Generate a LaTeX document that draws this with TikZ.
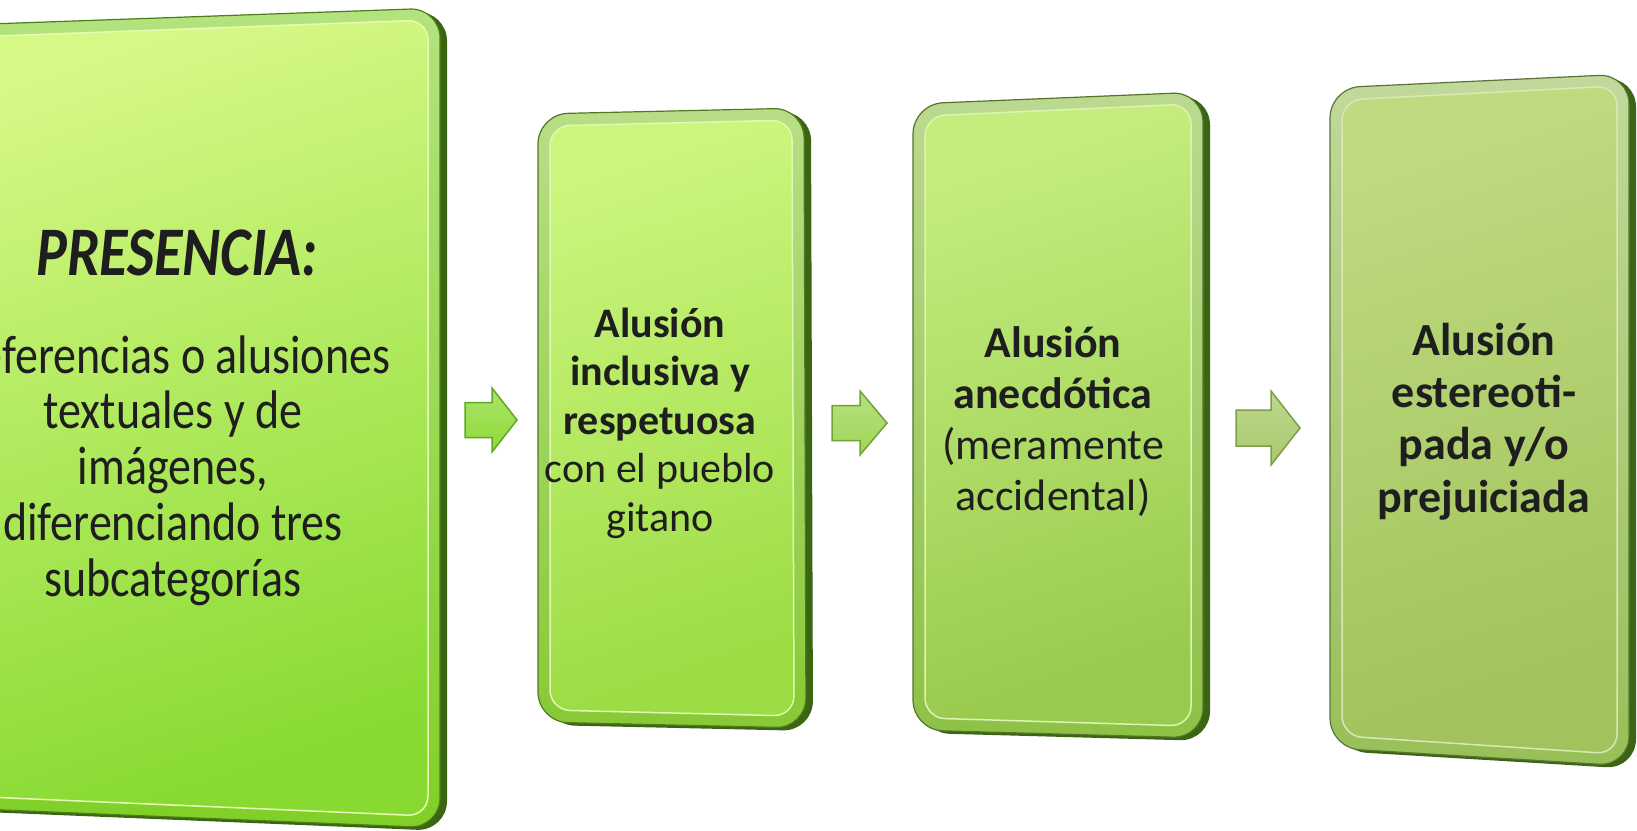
\documentclass[tikz,border=0pt]{standalone}
\usepackage{fontspec}
\setmainfont{Carlito}
\usetikzlibrary{calc}
\definecolor{txtc}{HTML}{1E1E1E}
\definecolor{shadowc}{HTML}{3A6614}
\definecolor{frA}{HTML}{80D028}\definecolor{inAt}{HTML}{D6F886}\definecolor{inAb}{HTML}{88DA32}
\definecolor{frB}{HTML}{88C936}\definecolor{inBt}{HTML}{CCF57E}\definecolor{inBb}{HTML}{9CDC44}
\definecolor{frC}{HTML}{8EC146}\definecolor{inCt}{HTML}{C4ED7E}\definecolor{inCb}{HTML}{99CA4E}
\definecolor{frD}{HTML}{98BF58}\definecolor{inDt}{HTML}{BEDB80}\definecolor{inDb}{HTML}{A1C25C}
\definecolor{arA}{HTML}{8EDB38}\definecolor{arAe}{HTML}{5FA822}
\definecolor{arB}{HTML}{9FD656}\definecolor{arBe}{HTML}{6FA335}
\definecolor{arC}{HTML}{A8C96C}\definecolor{arCe}{HTML}{7E9F48}
% #1 name, #2 TL, #3 TR, #4 BR, #5 BL, #6 frame, #7 inner top, #8 inner bottom
\newcommand\bevbox[8]{%
  \coordinate (#1tl) at (#2);\coordinate (#1tr) at (#3);
  \coordinate (#1br) at (#4);\coordinate (#1bl) at (#5);
  \fill[shadowc, rounded corners=30]
    ($(#1tl)+(7,3)$) -- ($(#1tr)+(7,3)$) -- ($(#1br)+(7,3)$) -- ($(#1bl)+(7,3)$) -- cycle;
  \path[rounded corners=30, top color=#6!60!white, bottom color=#6,
        draw=#6!60!black, line width=1.2]
    (#1tl) -- (#1tr) -- (#1br) -- (#1bl) -- cycle;
  \path[rounded corners=20, top color=#7, bottom color=#8, shading angle=18,
        draw=#7!60!white, line width=1.5]
    ($(#1tl)+(12,12)$) -- ($(#1tr)+(-12,12)$) -- ($(#1br)+(-12,-12)$) -- ($(#1bl)+(12,-12)$) -- cycle;
}
% #1 name, #2 left x, #3 head base x, #4 tip x, #5 centre y, #6 shaft half, #7 head half, #8 fill, #9 edge
\newcommand\blockarrow[9]{%
  \coordinate (#1) at (#2,#5);
  \path[top color=#8!75!white, bottom color=#8, draw=#9, line width=1.5, line join=miter]
    (#2,#5-#6) -- (#3,#5-#6) -- (#3,#5-#7) -- (#4,#5) -- (#3,#5+#7)
    -- (#3,#5+#6) -- (#2,#5+#6) -- cycle;
}
\tikzset{txt/.style={text=txtc, inner sep=0pt, align=center}}
\begin{document}
\begin{tikzpicture}[x=1pt,y=-1pt]
\useasboundingbox (0,0) rectangle (1637,830);
\clip (0,0) rectangle (1637,830);
\fill[white] (0,0) rectangle (1637,830);

\bevbox{A}{-95,27}{440,8}{440,828}{-95,806}{frA}{inAt}{inAb}
\bevbox{B}{538,114}{804,108}{806,728}{538,722}{frB}{inBt}{inBb}
\bevbox{C}{913,104}{1203,92}{1203,738}{913,730}{frC}{inCt}{inCb}
\bevbox{D}{1330,88}{1629,74}{1629,766}{1330,748}{frD}{inDt}{inDb}

\blockarrow{a1}{465}{492}{517}{420}{17.5}{32}{arA}{arAe}
\blockarrow{a2}{832}{860}{887}{423}{17.5}{32}{arB}{arBe}
\blockarrow{a3}{1236}{1271}{1300}{428}{18}{37}{arC}{arCe}

% last-line baselines used as anchors
\begin{scope}[shift={(177,275)}]
\node[txt, anchor=base, transform shape, yscale=1.2,
      font=\bfseries\itshape\fontsize{58}{60}\selectfont] (t1) at (0,0) {PRESENCIA:};
\end{scope}
\begin{scope}[shift={(173,596)}]
\node[txt, anchor=base, transform shape, yscale=1.18,
      font=\fontsize{46}{47.2}\selectfont] (b1) at (0,0)
  {Referencias o alusiones\\textuales y de\\imágenes,\\diferenciando tres\\subcategorías};
\end{scope}

\node[txt, anchor=base, font=\fontsize{42}{48.5}\selectfont] (b2) at (660,531)
  {\textbf{Alusión}\\\textbf{inclusiva y}\\\textbf{respetuosa}\\con el pueblo\\gitano};
\node[txt, anchor=base, font=\fontsize{44}{50.7}\selectfont] (b3) at (1053,510)
  {\textbf{Alusión}\\\textbf{anecdótica}\\(meramente\\accidental)};
\node[txt, anchor=base, font=\bfseries\fontsize{46}{52.3}\selectfont] (b4) at (1484,512)
  {Alusión\\estereoti-\\pada y/o\\prejuiciada};
\end{tikzpicture}
\end{document}
